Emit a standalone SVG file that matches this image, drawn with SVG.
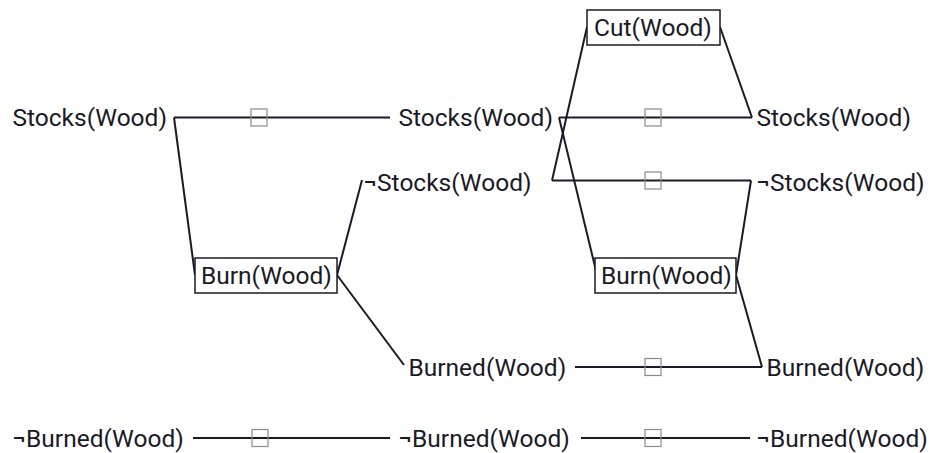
<svg xmlns="http://www.w3.org/2000/svg" width="929" height="453" viewBox="0 0 929 453">
<style>
text{font-family:Roboto,"Liberation Sans",sans-serif;font-size:24.5px;fill:#1a1a26}
.e{stroke:#1a1a26;stroke-width:2;fill:none}
.sq{stroke:#8a8a8a;stroke-width:1.2;fill:none}
.box{stroke:#1a1a26;stroke-width:1.5;fill:#fff}
</style>
<rect width="929" height="453" fill="#fff"/>
<g id="connectors">
<line class="e" x1="174" y1="117.5" x2="390" y2="117.5"/>
<line class="e" x1="174" y1="117.5" x2="195" y2="275"/>
<line class="e" x1="337" y1="275" x2="362" y2="180"/>
<line class="e" x1="337" y1="275" x2="404" y2="365"/>
<line class="e" x1="559" y1="117.5" x2="752" y2="117.5"/>
<line class="e" x1="559" y1="117.5" x2="597" y2="275"/>
<line class="e" x1="552" y1="180.5" x2="751" y2="180.5"/>
<line class="e" x1="552" y1="180.5" x2="587" y2="27"/>
<line class="e" x1="720" y1="27" x2="752" y2="117.5"/>
<line class="e" x1="736" y1="275" x2="751" y2="180.5"/>
<line class="e" x1="736" y1="275" x2="762" y2="367"/>
<line class="e" x1="575" y1="367" x2="762" y2="367"/>
<line class="e" x1="193" y1="438" x2="390" y2="438"/>
<line class="e" x1="581" y1="438" x2="750" y2="438"/>
<rect class="sq" x="251" y="109" width="16" height="17"/>
<rect class="sq" x="645" y="109" width="16" height="17"/>
<rect class="sq" x="645" y="172" width="16" height="17"/>
<rect class="sq" x="645" y="358.5" width="16" height="17"/>
<rect class="sq" x="252" y="429.5" width="16" height="17"/>
<rect class="sq" x="645" y="429.5" width="16" height="17"/>
</g>
<g id="n-stocks0"><text x="12.5" y="126">Stocks(Wood)</text></g>
<g id="n-notburned0"><text x="12.5" y="447">¬Burned(Wood)</text></g>
<g id="a-burn1"><rect class="box" x="195" y="258" width="142" height="35"/><text x="201" y="284">Burn(Wood)</text></g>
<g id="n-stocks1"><text x="398.5" y="126">Stocks(Wood)</text></g>
<g id="n-notstocks1"><text x="363.5" y="191">¬Stocks(Wood)</text></g>
<g id="n-burned1"><text x="408.5" y="376">Burned(Wood)</text></g>
<g id="n-notburned1"><text x="398.5" y="447">¬Burned(Wood)</text></g>
<g id="a-cut2"><rect class="box" x="587" y="10" width="133" height="35"/><text x="594" y="36">Cut(Wood)</text></g>
<g id="a-burn2"><rect class="box" x="595" y="258" width="141" height="35"/><text x="601" y="284">Burn(Wood)</text></g>
<g id="n-stocks2"><text x="756.5" y="126">Stocks(Wood)</text></g>
<g id="n-notstocks2"><text x="756.5" y="191">¬Stocks(Wood)</text></g>
<g id="n-burned2"><text x="766.5" y="376">Burned(Wood)</text></g>
<g id="n-notburned2"><text x="756.5" y="447">¬Burned(Wood)</text></g>
</svg>
